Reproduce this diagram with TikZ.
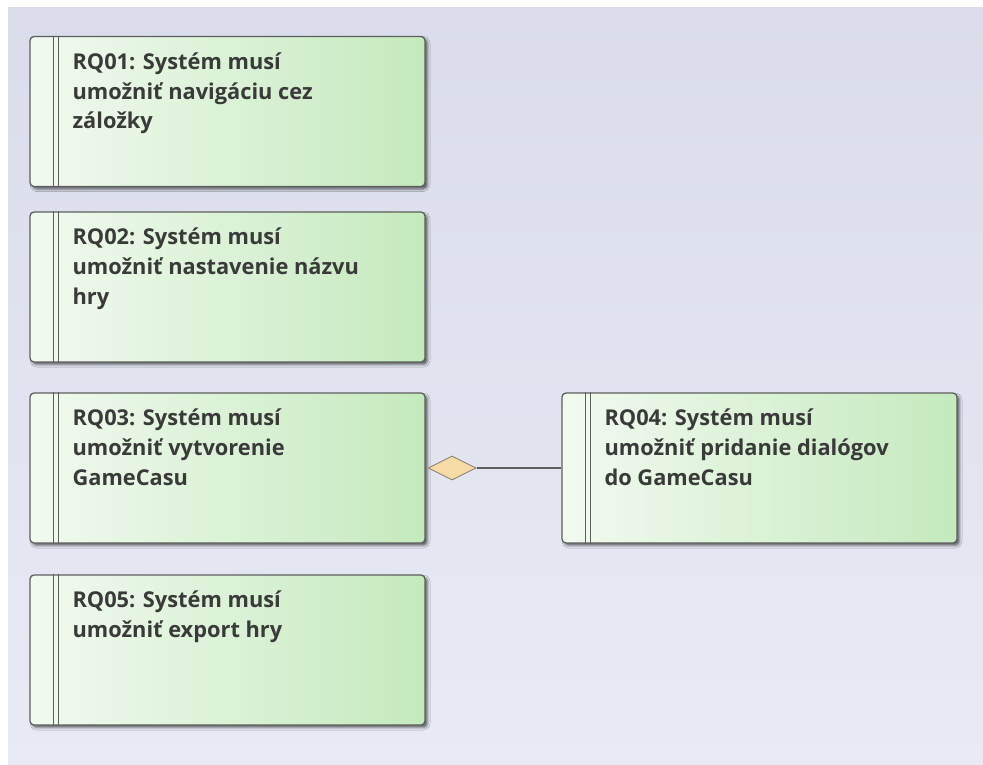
\documentclass[tikz,border=0pt]{standalone}
\usepackage{fontspec}
\setmainfont{Open Sans}
\usetikzlibrary{calc,shapes.geometric,shadows.blur}
\definecolor{bgtop}{HTML}{DADCEB}
\definecolor{bgbot}{HTML}{E8EBF4}
\definecolor{boxl}{HTML}{F2FAF0}
\definecolor{boxm}{HTML}{E2F4DE}
\definecolor{boxr}{HTML}{C4EABD}
\definecolor{edge}{HTML}{5E5E5E}
\definecolor{txt}{HTML}{3A3A3A}
\definecolor{dfill}{HTML}{F7DBA6}
\definecolor{dedge}{HTML}{8E8474}
\newcommand\lblfont{\fontsize{21.8}{29.7}\selectfont\bfseries}
\tikzset{
  req/.style={draw=edge, line width=1.3pt, rounded corners=4pt,
    minimum width=395pt, minimum height=150pt, inner sep=0pt,
    left color=boxl, middle color=boxm, right color=boxr,
    blur shadow={shadow xshift=2.5pt, shadow yshift=-2.5pt, shadow blur radius=2.5pt, shadow opacity=60}},
  bar/.style={draw=edge, line width=1.2pt},
  lbl/.style={text=txt, font=\lblfont, inner sep=0pt, anchor=base west},
  agg/.style={diamond, aspect=2, minimum width=48pt, minimum height=24pt, inner sep=0pt,
    fill=dfill, draw=dedge, line width=0.9pt},
  conn/.style={draw=edge, line width=1.2pt}
}
\newcommand\reqbox[4]{%
  \node[req] (#1) at (#2) {};
  \draw[bar] ($(#1.north west)+(24,0)$) -- ($(#1.south west)+(24,0)$);
  \draw[bar] ($(#1.north west)+(29,0)$) -- ($(#1.south west)+(29,0)$);
  \node[lbl] (#1t) at ($(#1.north west)+(43,33.5)$) {\parbox[t]{340pt}{#4}};
}
\begin{document}
\begin{tikzpicture}[x=1pt,y=-1pt]
\useasboundingbox (0,0) rectangle (983,765);
\fill[white] (0,0) rectangle (983,765);
\shade[top color=bgtop, bottom color=bgbot] (8,8) rectangle (983,765);
\reqbox{rq1}{227.5,111.5}{}{RQ01: Systém musí\\umožniť navigáciu cez\\záložky}
\reqbox{rq2}{227.5,287}{}{RQ02: Systém musí\\umožniť nastavenie názvu\\hry}
\reqbox{rq3}{227.5,468}{}{RQ03: Systém musí\\umožniť vytvorenie\\GameCasu}
\reqbox{rq4}{759.5,468}{}{RQ04: Systém musí\\umožniť pridanie dialógov\\do GameCasu}
\reqbox{rq5}{227.5,650}{}{RQ05: Systém musí\\umožniť export hry}
\node[agg, anchor=west] (d34) at ($(rq3.east)+(2,0)$) {};
\draw[conn] (d34.east) -- (rq4.west);
\end{tikzpicture}
\end{document}
